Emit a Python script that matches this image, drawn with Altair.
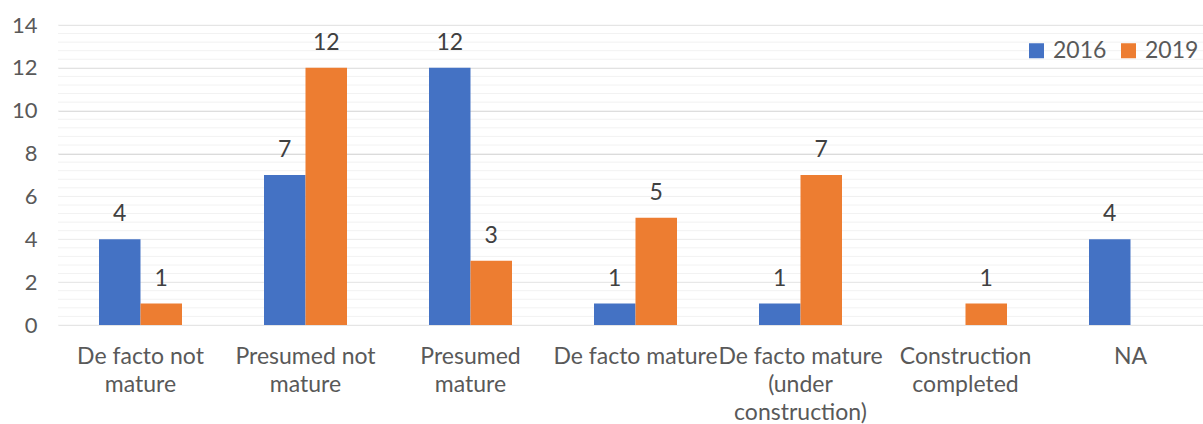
import altair as alt
import pandas as pd

# Category labels ("|" marks a line break in the axis label)
categories = [
    "De facto not|mature",
    "Presumed not|mature",
    "Presumed|mature",
    "De facto mature",
    "De facto mature|(under|construction)",
    "Construction|completed",
    "NA",
]
series = ["2016", "2019"]
values_2016 = [4, 7, 12, 1, 1, None, 4]
values_2019 = [1, 12, 3, 5, 7, 1, None]
y_ticks = [0, 2, 4, 6, 8, 10, 12, 14]

rows = []
for cat, a, b in zip(categories, values_2016, values_2019):
    if a is not None:
        rows.append({"category": cat, "year": "2016", "count": a})
    if b is not None:
        rows.append({"category": cat, "year": "2019", "count": b})
df = pd.DataFrame(rows)

FONT = "Lato"
TEXT = "#595959"
W, H = 1145, 300

x_enc = alt.X(
    "category:N",
    sort=categories,
    scale=alt.Scale(range=[0, 1155], paddingInner=0.497, paddingOuter=0.2485),
    axis=alt.Axis(
        title=None, labelAngle=0, domain=False, ticks=False,
        labelExpr="split(datum.value, '|')", labelLineHeight=28,
        labelPadding=20, labelFontSize=23, labelColor=TEXT, labelFont=FONT,
    ),
)
xoff_enc = alt.XOffset("year:N", scale=alt.Scale(domain=series, paddingInner=0, paddingOuter=0))
y_scale = alt.Scale(domain=[0, 14], nice=False)
y_axis = alt.Axis(
    title=None, values=y_ticks, grid=True, gridColor="#D9D9D9",
    domain=False, ticks=False, labelPadding=21, labelFontSize=22,
    labelColor=TEXT, labelFont=FONT,
)

# Light minor gridlines every 0.4
minor = (
    alt.Chart(alt.sequence(0, 14.01, 0.4, as_="v"))
    .mark_rule(color="#F2F2F2", strokeWidth=1)
    .encode(y=alt.Y("v:Q", scale=y_scale, axis=y_axis), x=alt.value(0), x2=alt.value(W))
)

bars = (
    alt.Chart(df)
    .mark_bar()
    .encode(
        x=x_enc,
        xOffset=xoff_enc,
        y=alt.Y("count:Q", scale=y_scale, axis=y_axis),
        color=alt.Color(
            "year:N",
            scale=alt.Scale(domain=series, range=["#4472C4", "#ED7D31"]),
            legend=alt.Legend(
                title=None, orient="none", direction="horizontal",
                legendX=967, legendY=14, symbolType="square", symbolSize=225,
                symbolStrokeWidth=0, labelFontSize=23, labelColor=TEXT,
                labelFont=FONT, labelOffset=5, columnPadding=10, padding=0,
            ),
        ),
    )
)

labels = (
    alt.Chart(df)
    .mark_text(baseline="middle", dy=-25, fontSize=23, font=FONT, color="#404040")
    .encode(x=x_enc, xOffset=xoff_enc, y=alt.Y("count:Q", scale=y_scale, axis=y_axis), text="count:Q")
)

chart = (
    alt.layer(minor, bars, labels)
    .properties(
        width=W, height=H,
        autosize=alt.AutoSizeParams(type="none"),
        padding={"left": 58, "top": 25, "right": 0, "bottom": 99},
    )
    .configure_view(stroke=None)
)

chart.save("out.html", embed_options={"renderer": "svg", "actions": False})
